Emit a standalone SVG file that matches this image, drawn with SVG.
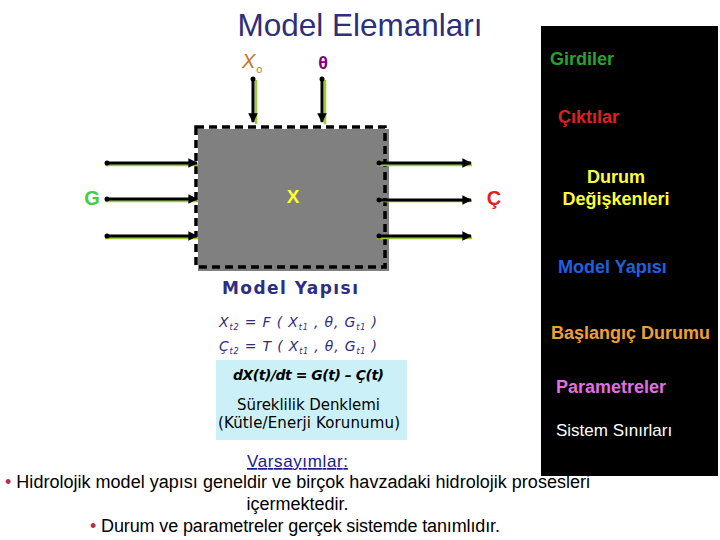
<svg xmlns="http://www.w3.org/2000/svg" width="720" height="540" viewBox="0 0 720 540">
<defs>
<marker id="ah" viewBox="0 0 10 10" refX="9" refY="5" markerWidth="3.2" markerHeight="3.2" orient="auto" markerUnits="strokeWidth">
<path d="M0,0 L10,5 L0,10 z" fill="#000"/>
</marker>
<style>
.sans{font-family:"Liberation Sans",Arial,sans-serif}
.comic{font-family:"DejaVu Sans",sans-serif}
.wire{stroke:#000;stroke-width:3;fill:none}
.glow{stroke:#9acd32;stroke-width:2.5;fill:none}
.leg{font-family:"Liberation Sans",Arial,sans-serif;font-size:18px;font-weight:bold}
.eq{font-family:"DejaVu Sans",sans-serif;font-style:italic;font-size:14px;fill:#2e2e80}
.sub{font-size:8px}
.bottom{font-family:"Liberation Sans",Arial,sans-serif;font-size:18px;fill:#000}
.bul{fill:#b03050}
</style>
</defs>
<rect width="720" height="540" fill="#fff"/>

<g id="legend">
<rect x="541" y="26" width="177" height="450" fill="#000"/>
<text class="leg" x="550" y="65" fill="#2ca02c">Girdiler</text>
<text class="leg" x="558" y="123" fill="#e02020">Çıktılar</text>
<text class="leg" x="616" y="183" fill="#ffff33" text-anchor="middle">Durum</text>
<text class="leg" x="616" y="205" fill="#ffff33" text-anchor="middle">Değişkenleri</text>
<text class="leg" x="558" y="273" fill="#2060e0">Model Yapısı</text>
<text class="leg" x="551" y="339" fill="#f0a030" font-size="15">Başlangıç Durumu</text>
<text class="leg" x="556" y="393" fill="#e070e0">Parametreler</text>
<text x="556" y="436" fill="#fff" class="sans" font-size="17">Sistem Sınırları</text>
</g>

<text id="title" class="sans" x="360" y="36" font-size="31.5" fill="#2e2e7a" text-anchor="middle">Model Elemanları</text>

<g id="system">
<rect x="198" y="129" width="191" height="142" fill="#808080"/>
<rect x="196" y="127" width="189" height="140" fill="none" stroke="#000" stroke-width="3.5" stroke-dasharray="8,5"/>
<text x="293" y="203" class="sans" font-size="19" font-weight="bold" fill="#ffff33" text-anchor="middle">X</text>
</g>

<g id="connectors">
<line class="glow" x1="256" y1="80" x2="256" y2="124"/>
<line class="wire" x1="253" y1="79" x2="253" y2="122" marker-end="url(#ah)"/>
<circle cx="253" cy="79" r="2.5"/>
<line class="glow" x1="325" y1="80" x2="325" y2="124"/>
<line class="wire" x1="322" y1="79" x2="322" y2="122" marker-end="url(#ah)"/>
<circle cx="322" cy="79" r="2.5"/>
<line class="glow" x1="105" y1="165" x2="198" y2="165"/>
<line class="wire" x1="107" y1="163" x2="197" y2="163" marker-end="url(#ah)"/>
<circle cx="107" cy="163" r="2.5"/>
<line class="glow" x1="105" y1="201" x2="198" y2="201"/>
<line class="wire" x1="107" y1="199" x2="197" y2="199" marker-end="url(#ah)"/>
<circle cx="107" cy="199" r="2.5"/>
<line class="glow" x1="105" y1="238" x2="198" y2="238"/>
<line class="wire" x1="107" y1="236" x2="197" y2="236" marker-end="url(#ah)"/>
<circle cx="107" cy="236" r="2.5"/>
<line class="glow" x1="377" y1="165" x2="472" y2="165"/>
<line class="wire" x1="379" y1="163" x2="471" y2="163" marker-end="url(#ah)"/>
<circle cx="379" cy="163" r="2.5"/>
<line class="glow" x1="377" y1="201" x2="472" y2="201"/>
<line class="wire" x1="379" y1="200" x2="471" y2="200" marker-end="url(#ah)"/>
<circle cx="379" cy="200" r="2.5"/>
<line class="glow" x1="377" y1="238" x2="472" y2="238"/>
<line class="wire" x1="379" y1="236" x2="471" y2="236" marker-end="url(#ah)"/>
<circle cx="379" cy="236" r="2.5"/>
</g>

<g id="labels">
<text x="242" y="68" class="sans" font-size="20" font-style="italic" fill="#c8741e">X<tspan font-size="11" dy="5" dx="1" font-style="normal">o</tspan></text>
<text x="323" y="69" class="sans" font-size="18" font-weight="bold" fill="#800080" text-anchor="middle">θ</text>
<text x="92" y="205" class="sans" font-size="20" font-weight="bold" fill="#44cc44" text-anchor="middle">G</text>
<text x="494" y="205" class="sans" font-size="20" font-weight="bold" fill="#e02020" text-anchor="middle">Ç</text>
</g>

<g id="model-structure">
<text x="222" y="294" class="comic" font-size="17" font-weight="bold" fill="#2e2e80" textLength="136" lengthAdjust="spacing">Model Yapısı</text>
<text class="eq" x="219" y="327" textLength="158" lengthAdjust="spacing">X<tspan class="sub" dy="3">t2</tspan><tspan dy="-3"> = F ( X</tspan><tspan class="sub" dy="3">t1</tspan><tspan dy="-3"> , θ, G</tspan><tspan class="sub" dy="3">t1</tspan><tspan dy="-3"> )</tspan></text>
<text class="eq" x="219" y="351" textLength="158" lengthAdjust="spacing">Ç<tspan class="sub" dy="3">t2</tspan><tspan dy="-3"> = T ( X</tspan><tspan class="sub" dy="3">t1</tspan><tspan dy="-3"> , θ, G</tspan><tspan class="sub" dy="3">t1</tspan><tspan dy="-3"> )</tspan></text>
</g>

<g id="continuity">
<rect x="216" y="360" width="191" height="80" fill="#ccf0f8"/>
<text x="233" y="380" class="comic" font-size="14" font-style="italic" font-weight="bold" fill="#000" textLength="151" lengthAdjust="spacing">dX(t)/dt = G(t) – Ç(t)</text>
<text x="237" y="410" class="comic" font-size="15" fill="#000" textLength="143" lengthAdjust="spacing">Süreklilik Denklemi</text>
<text x="218" y="428" class="comic" font-size="15" fill="#000" textLength="182" lengthAdjust="spacing">(Kütle/Enerji Korunumu)</text>
</g>

<g id="assumptions">
<text x="297.5" y="467" class="sans" font-size="17" fill="#1a1a8a" text-anchor="middle" text-decoration="underline" textLength="101" lengthAdjust="spacing">Varsayımlar:</text>
<text x="5" y="488" class="bottom" textLength="585" lengthAdjust="spacing"><tspan class="bul">•</tspan> Hidrolojik model yapısı geneldir ve birçok havzadaki hidrolojik prosesleri</text>
<text x="297.5" y="510" class="bottom" text-anchor="middle">içermektedir.</text>
<text x="90" y="532" class="bottom" textLength="410" lengthAdjust="spacing"><tspan class="bul">•</tspan> Durum ve parametreler gerçek sistemde tanımlıdır.</text>
</g>
</svg>
